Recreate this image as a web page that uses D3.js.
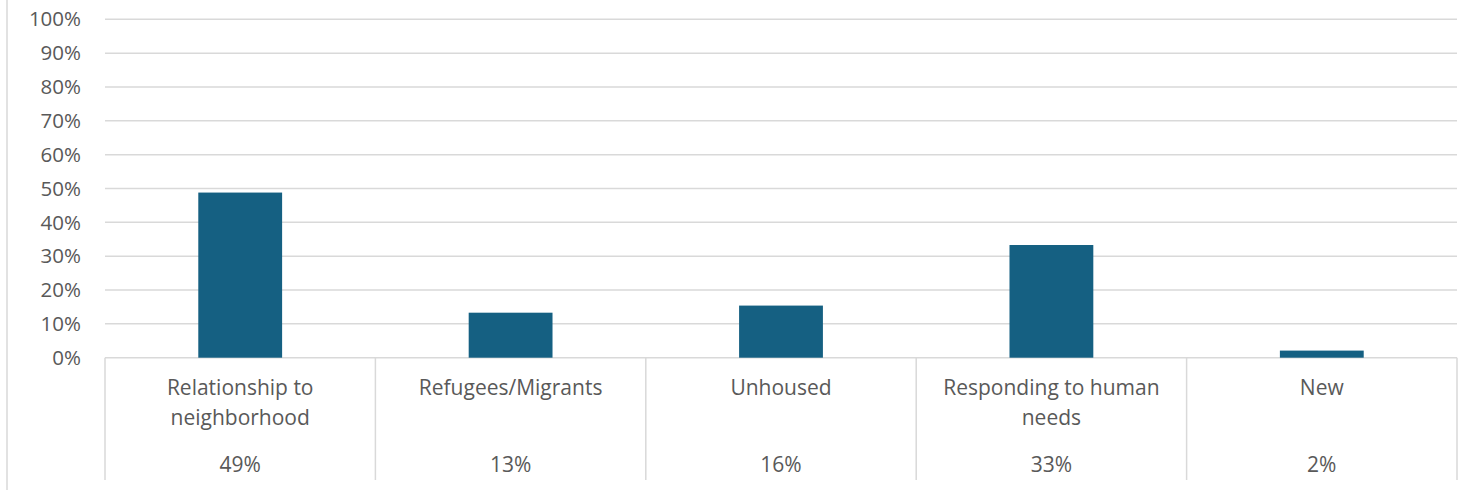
<!DOCTYPE html>
<html>
<head>
<meta charset="utf-8">
<script src="https://cdn.jsdelivr.net/npm/d3@7"></script>
<style>
  body { margin: 0; background: #fff; }
  svg text { font-family: "Open Sans", "Noto Sans", sans-serif; fill: #595959; }
</style>
</head>
<body>
<div id="chart"></div>
<script>
var categories = [["Relationship to", "neighborhood"], ["Refugees/Migrants"], ["Unhoused"], ["Responding to human", "needs"], ["New"]];
var values = [48.8, 13.3, 15.4, 33.3, 2.1];
var valueLabels = ["49%", "13%", "16%", "33%", "2%"];
var yTicks = [0, 10, 20, 30, 40, 50, 60, 70, 80, 90, 100];

var width = 1463, height = 490;
var plotLeft = 105, plotRight = 1457, plotTop = 19.3, plotBase = 357.7, tableBottom = 480;

var svg = d3.select("#chart").append("svg")
    .attr("width", width)
    .attr("height", height);

// outer frame line on the left
svg.append("line")
    .attr("x1", 7).attr("x2", 7)
    .attr("y1", 0).attr("y2", height)
    .attr("stroke", "#d9d9d9").attr("stroke-width", 1.5);

var x = d3.scaleBand()
    .domain(d3.range(categories.length))
    .range([plotLeft, plotRight])
    .paddingInner(0).paddingOuter(0);

var y = d3.scaleLinear().domain([0, 100]).range([plotBase, plotTop]);

// gridlines
svg.append("g").selectAll("line")
    .data(yTicks)
    .enter().append("line")
    .attr("x1", plotLeft).attr("x2", plotRight)
    .attr("y1", d => y(d)).attr("y2", d => y(d))
    .attr("stroke", "#d9d9d9").attr("stroke-width", 1.5);

// y labels
svg.append("g").selectAll("text")
    .data(yTicks)
    .enter().append("text")
    .attr("x", 81)
    .attr("y", d => y(d))
    .attr("dy", "0.35em")
    .attr("text-anchor", "end")
    .style("font-size", "20.5px")
    .text(d => d + "%");

// bars
var barW = x.bandwidth() * 0.31;
svg.append("g").selectAll("rect")
    .data(values)
    .enter().append("rect")
    .attr("x", (d, i) => x(i) + x.bandwidth() / 2 - barW / 2)
    .attr("y", d => y(d))
    .attr("width", barW)
    .attr("height", d => y(0) - y(d))
    .attr("fill", "#156082");

// data table lines
svg.append("g").selectAll("line")
    .data(d3.range(categories.length + 1))
    .enter().append("line")
    .attr("x1", i => i < categories.length ? x(i) : plotRight)
    .attr("x2", i => i < categories.length ? x(i) : plotRight)
    .attr("y1", plotBase).attr("y2", tableBottom)
    .attr("stroke", "#d9d9d9").attr("stroke-width", 1.5);

// category labels
var cat = svg.append("g").selectAll("text")
    .data(categories)
    .enter().append("text")
    .attr("text-anchor", "middle")
    .style("font-size", "21px");
cat.selectAll("tspan")
    .data((d, i) => d.map(t => ({t: t, i: i})))
    .enter().append("tspan")
    .attr("x", d => x(d.i) + x.bandwidth() / 2)
    .attr("y", (d, j) => 395 + j * 29.5)
    .text(d => d.t);

// value labels
svg.append("g").selectAll("text")
    .data(valueLabels)
    .enter().append("text")
    .attr("x", (d, i) => x(i) + x.bandwidth() / 2)
    .attr("y", 472)
    .attr("text-anchor", "middle")
    .style("font-size", "21px")
    .text(d => d);
</script>
</body>
</html>
